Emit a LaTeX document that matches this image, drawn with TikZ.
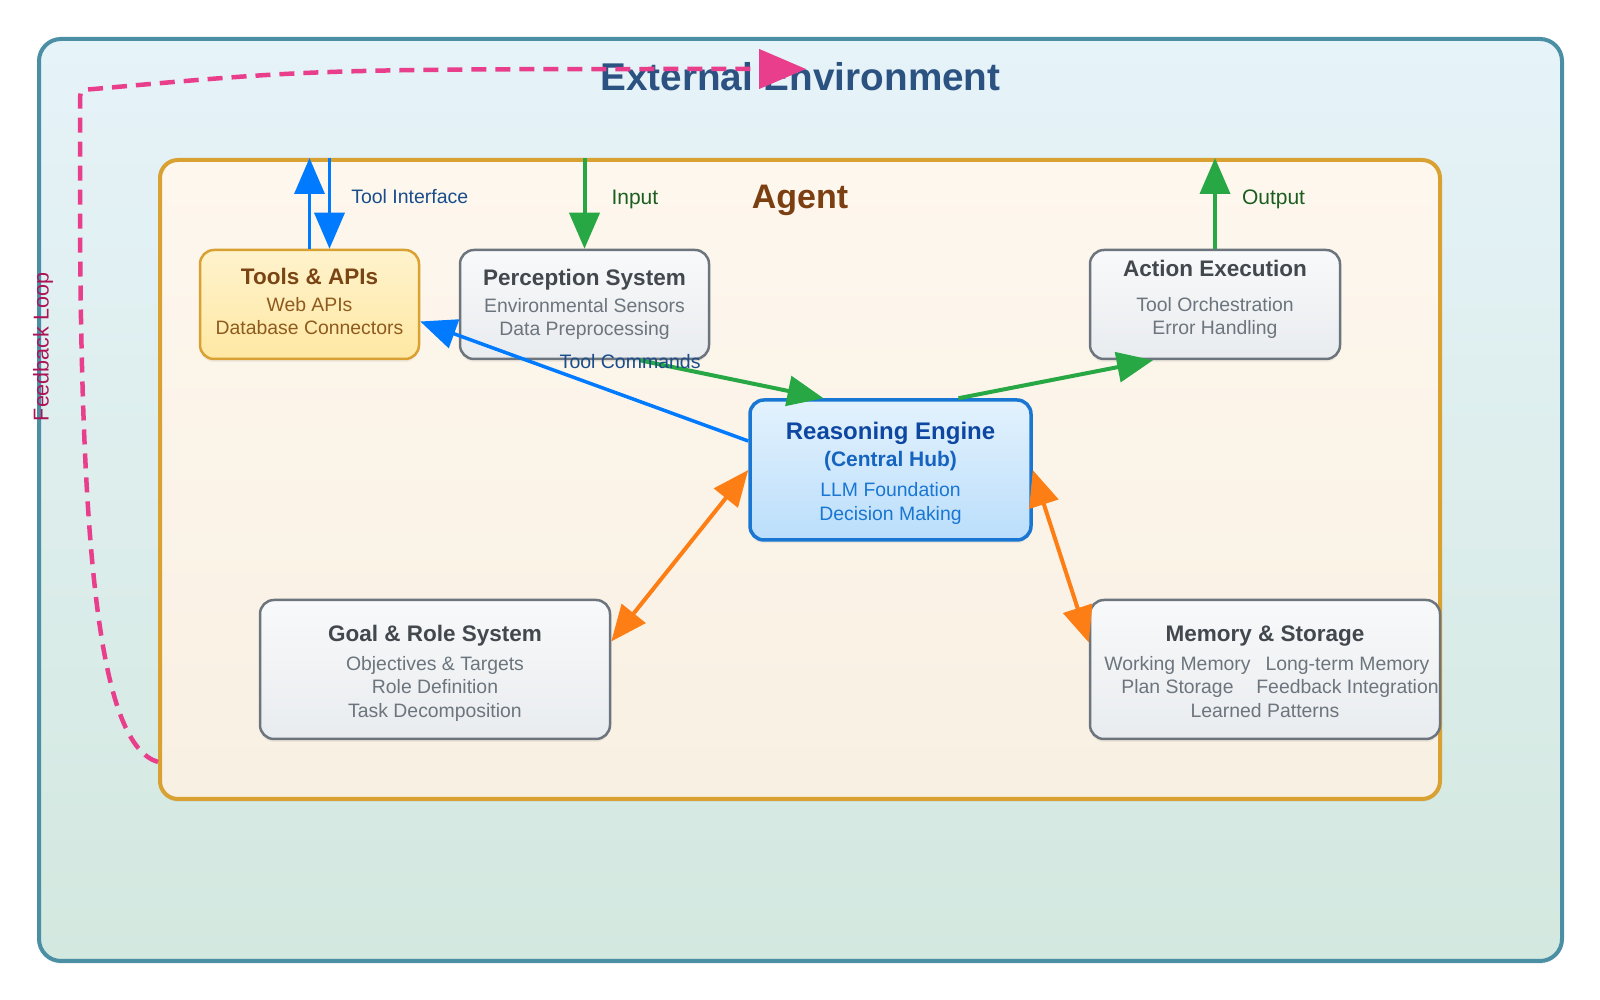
\documentclass[tikz,border=0pt]{standalone}
\usepackage{fontspec}
\setmainfont{Liberation Sans}
\usetikzlibrary{arrows.meta,positioning,shadows}

\definecolor{envline}{HTML}{4A8FA3}
\definecolor{envtop}{HTML}{E6F3F9}
\definecolor{envbot}{HTML}{D3E8DF}
\definecolor{envtxt}{HTML}{2C5282}
\definecolor{agline}{HTML}{D9A032}
\definecolor{agtop}{HTML}{FEF7EE}
\definecolor{agbot}{HTML}{F8F0E2}
\definecolor{agtxt}{HTML}{7B3F11}
\definecolor{compline}{HTML}{6C757D}
\definecolor{comptop}{HTML}{F8F9FA}
\definecolor{compbot}{HTML}{E9ECEF}
\definecolor{comptitle}{HTML}{43484E}
\definecolor{compsub}{HTML}{6C757D}
\definecolor{tooltop}{HTML}{FFF3CD}
\definecolor{toolbot}{HTML}{FFE8A3}
\definecolor{tooltitle}{HTML}{7A4414}
\definecolor{toolsub}{HTML}{8F5A1E}
\definecolor{hubtop}{HTML}{E3F2FD}
\definecolor{hubbot}{HTML}{BBDEFB}
\definecolor{hubline}{HTML}{1976D2}
\definecolor{hubtitle}{HTML}{0D47A1}
\definecolor{hubsubt}{HTML}{1565C0}
\definecolor{flowblue}{HTML}{007BFF}
\definecolor{flowgreen}{HTML}{28A745}
\definecolor{floworange}{HTML}{FD7E14}
\definecolor{flowpink}{HTML}{E83E8C}
\definecolor{lblblue}{HTML}{1A4D8C}
\definecolor{lblgreen}{HTML}{1B5E20}
\definecolor{lblpink}{HTML}{AD1457}

\newcommand{\subtxt}{\fontsize{19.4}{23.5}\selectfont}
\newcommand{\ttl}[2][comptitle]{{\color{#1}\fontsize{22.5}{23.5}\selectfont\bfseries #2}}
\newcommand{\twocol}[2]{\makebox[330pt]{\hspace{12pt}\makebox[150pt]{#1}\hspace{3pt}\makebox[184pt]{#2}}}
\newcommand{\uph}[1]{\rule{0pt}{#1}}
\newcommand{\dnd}[1]{\rule[-#1]{0pt}{0pt}}

\begin{document}
\begin{tikzpicture}[x=1pt,y=1pt]

\tikzset{
	softshadow/.style={
		drop shadow={shadow xshift=0pt, shadow yshift=-3pt, opacity=0.10}},
	envbox/.style={
		draw=envline,
		line width=4pt,
		rounded corners=22pt,
		top color=envtop,
		bottom color=envbot,
		inner sep=0pt,
		softshadow},
	agentbox/.style={
		draw=agline,
		line width=4pt,
		rounded corners=18pt,
		top color=agtop,
		bottom color=agbot,
		inner sep=0pt,
		softshadow},
	comp/.style={
		rectangle,
		draw=compline,
		line width=2.5pt,
		rounded corners=14pt,
		top color=comptop,
		bottom color=compbot,
		text=compsub,
		align=center,
		inner sep=0pt,
		font=\subtxt,
		softshadow},
	tool/.style={
		comp,
		draw=agline,
		top color=tooltop,
		bottom color=toolbot,
		text=toolsub},
	hub/.style={
		comp,
		draw=hubline,
		line width=3.5pt,
		top color=hubtop,
		bottom color=hubbot,
		text=hubline},
	lbl/.style={
		inner sep=0pt,
		font=\fontsize{19.5}{22}\selectfont},
	blueflow/.style={
		draw=flowblue,
		line width=3.5pt,
		-{Triangle[length=36pt,width=30pt]}},
	greenflow/.style={
		draw=flowgreen,
		line width=4pt,
		-{Triangle[length=36pt,width=30pt]}},
	orangeflow/.style={
		draw=floworange,
		line width=4pt,
		{Triangle[length=36pt,width=30pt]}-{Triangle[length=36pt,width=30pt]}},
	feedback/.style={
		draw=flowpink,
		line width=4.5pt,
		dash pattern=on 15pt off 9pt,
		-{Triangle[length=47pt,width=39pt]}}
}

\useasboundingbox (0,0) rectangle (1600,1000);

% outer frame and agent frame
\node[envbox,minimum width=1523pt,minimum height=922pt] (env) at (800.5,500) {};
\node[anchor=base,inner sep=0pt,text=envtxt,font=\fontsize{38.7}{44}\selectfont\bfseries] (envtitle) at (800.5,909) {External Environment};

\node[agentbox,minimum width=1280pt,minimum height=639pt] (agent) at (800,520.5) {};
\node[anchor=base,inner sep=0pt,text=agtxt,font=\fontsize{34}{40}\selectfont\bfseries] (agtitle) at (800,791.5) {Agent};

% components
\node[tool,minimum width=219pt,minimum height=109pt] (tools) at (309.5,695.5)
{\ttl[tooltitle]{Tools \& APIs}\\[3pt] Web APIs\\ Database Connectors\dnd{6pt}};

\node[comp,minimum width=249pt,minimum height=109pt] (perc) at (584.5,695.5)
{\ttl{Perception System}\\[3pt] Environmental Sensors\\ Data Preprocessing};

\node[comp,minimum width=250pt,minimum height=109pt] (act) at (1215,695.5)
{\ttl{Action Execution}\\[11.5pt] Tool Orchestration\\ Error Handling\dnd{14pt}};

\node[hub,minimum width=281pt,minimum height=140pt] (reason) at (890.5,530)
{\uph{24.5pt}{\color{hubtitle}\fontsize{24}{23.5}\selectfont\bfseries Reasoning Engine}\\[3pt]
 {\color{hubsubt}\fontsize{21}{23.5}\selectfont\bfseries (Central Hub)}\\[7pt]
 LLM Foundation\\ Decision Making};

\node[comp,minimum width=350pt,minimum height=139pt] (goal) at (435,330.5)
{\uph{24pt}\ttl{Goal \& Role System}\\[5.5pt] Objectives \& Targets\\ Role Definition\\ Task Decomposition};

\node[comp,minimum width=350pt,minimum height=139pt] (mem) at (1265,330.5)
{\uph{20pt}\ttl{Memory \& Storage}\\[5.5pt]
 \twocol{Working Memory}{Long-term Memory}\\
 \twocol{Plan Storage}{Feedback Integration}\\
 Learned Patterns};

% environment interface
\draw[blueflow] (tools.north) -- (tools.north |- agent.north);
\draw[blueflow] ([xshift=20pt]tools.north |- agent.north) -- ([xshift=20pt]tools.north)
   node[lbl,text=lblblue,pos=0.43,right=20pt] (tilbl) {Tool Interface};

\draw[greenflow] (perc.north |- agent.north) -- (perc.north)
   node[lbl,text=lblgreen,font=\fontsize{21}{24}\selectfont,pos=0.46,right=25pt] (inlbl) {Input};
\draw[greenflow] (act.north) -- (act.north |- agent.north)
   node[lbl,text=lblgreen,font=\fontsize{21}{24}\selectfont,pos=0.54,right=25pt] (outlbl) {Output};

% internal flows
\draw[greenflow] ([xshift=55pt]perc.south) -- ([xshift=-67pt]reason.north);
\draw[greenflow] ([xshift=68pt]reason.north) -- ([xshift=-62pt]act.south);

\draw[blueflow] ([yshift=29pt]reason.west) -- ([yshift=-17pt]tools.east)
   node[lbl,text=lblblue,pos=0.36,above=28pt] (cmdlbl) {Tool Commands};

\draw[orangeflow] (reason.west) -- ([yshift=28pt]goal.east);
\draw[orangeflow] (reason.east) -- ([yshift=27pt]mem.west);

% feedback loop
\coordinate (fbstart) at ([yshift=39pt]agent.south west);
\coordinate (fbtip) at (806,931);
\draw[feedback] (fbstart) .. controls (100,255) and (82,440) .. (80,770) -- (80,896)
   .. controls (80,910) .. (94,911) .. controls (318,931) .. (fbtip);
\node[lbl,text=lblpink,rotate=90,font=\fontsize{21.5}{24}\selectfont] (fblbl) at (43,653) {Feedback Loop};

\end{tikzpicture}
\end{document}
